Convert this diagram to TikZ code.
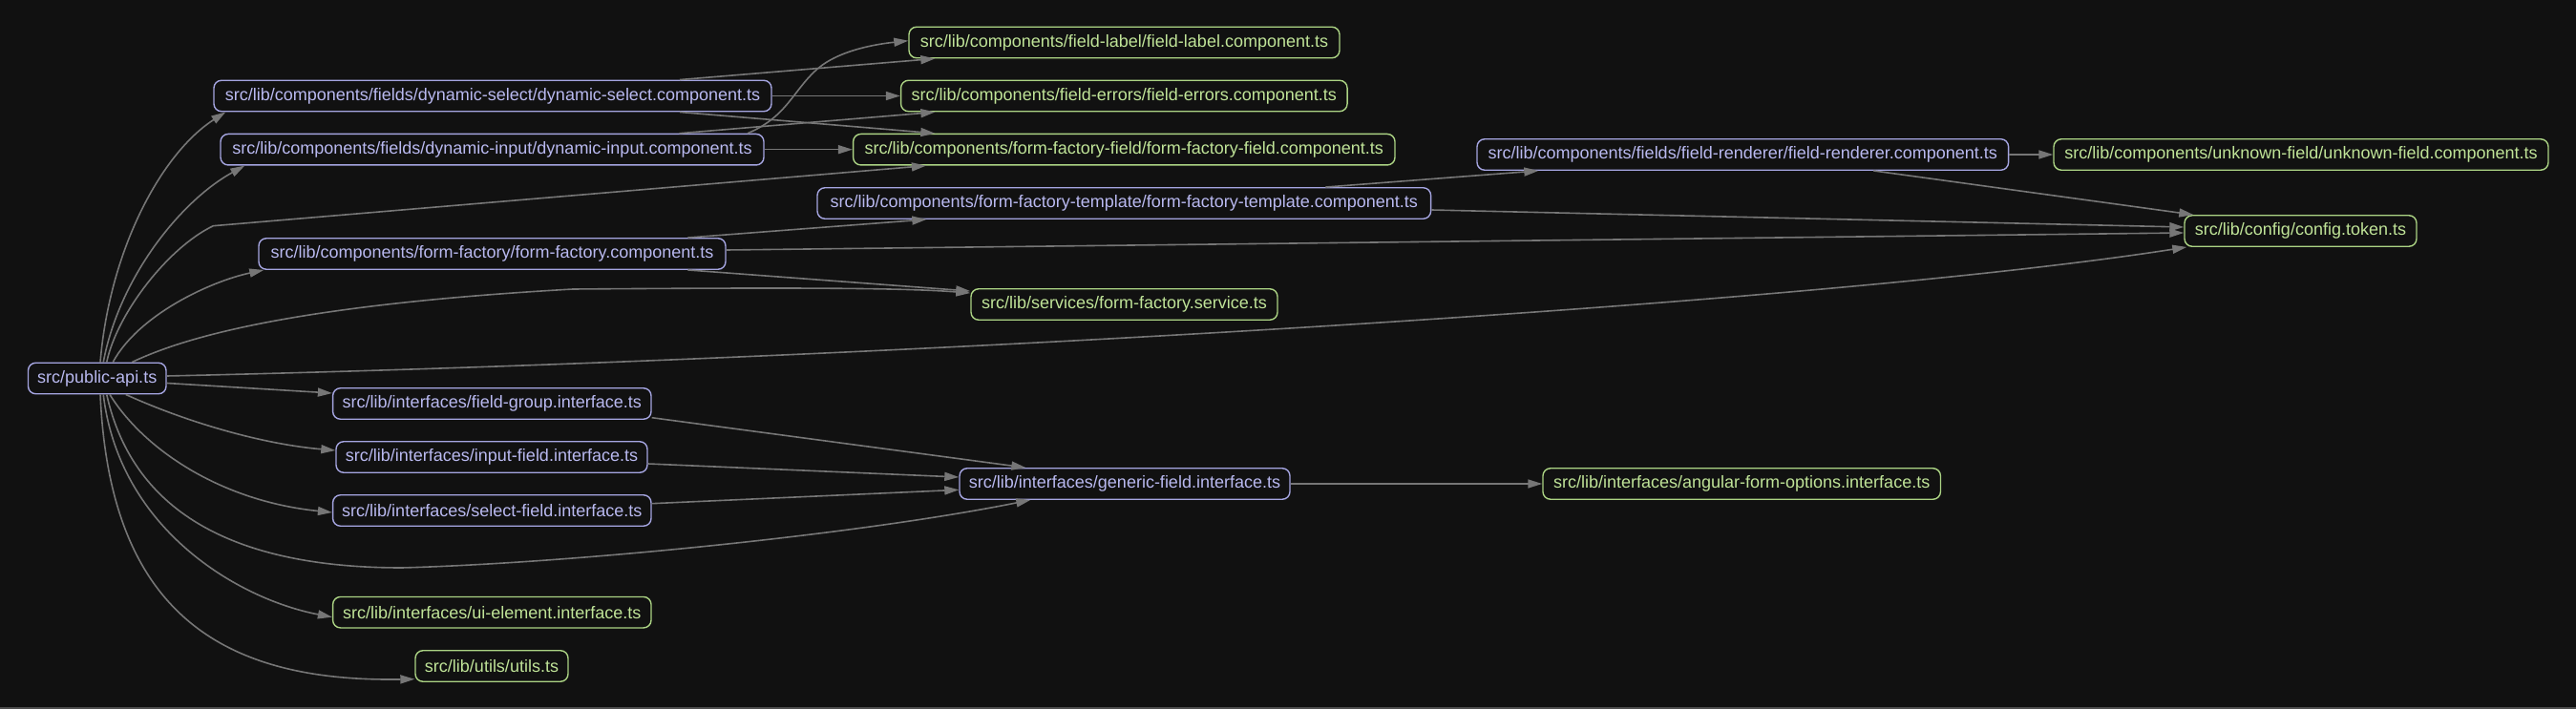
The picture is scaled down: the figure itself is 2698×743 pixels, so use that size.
\documentclass[tikz,border=0pt]{standalone}
\usepackage{fontspec}
\setmainfont{Liberation Sans}
\usetikzlibrary{arrows.meta}
\definecolor{bg}{HTML}{111111}
\definecolor{lav}{RGB}{185,185,240}
\definecolor{lavb}{RGB}{165,165,225}
\definecolor{grn}{RGB}{192,228,152}
\definecolor{grnb}{RGB}{172,212,132}
\definecolor{edgec}{RGB}{118,118,118}
\definecolor{rim}{RGB}{78,78,78}
\tikzset{
  box/.style={rounded corners=8pt, line width=1.4pt, inner sep=0pt, minimum height=32.5pt,
    font=\fontsize{18pt}{21pt}\selectfont, fill=bg},
  bnode/.style={box, draw=lavb, text=lav},
  gnode/.style={box, draw=grnb, text=grn},
  edge/.style={draw=edgec, line width=1.6pt, -{Triangle[length=15pt,width=9pt]}},
}
\begin{document}
\begin{tikzpicture}[x=1pt,y=-1pt]
\fill[bg] (0,0) rectangle (2698,743);
\fill[rim] (0,740.5) rectangle (2698,743);
\useasboundingbox (0,0) rectangle (2698,743);

% nodes
\node[bnode, minimum width=144.5pt] (pub) at (101.75,396.5) {src/public-api.ts};
\node[bnode, minimum width=584pt] (dsel) at (516,100.5) {src/lib/components/fields/dynamic-select/dynamic-select.component.ts};
\node[bnode, minimum width=569pt] (dinp) at (515.5,156.7) {src/lib/components/fields/dynamic-input/dynamic-input.component.ts};
\node[bnode, minimum width=489pt] (ff) at (515.5,266) {src/lib/components/form-factory/form-factory.component.ts};
\node[bnode, minimum width=642.6pt] (fft) at (1177.3,213) {src/lib/components/form-factory-template/form-factory-template.component.ts};
\node[gnode, minimum width=451pt] (flabel) at (1177.5,44.5) {src/lib/components/field-label/field-label.component.ts};
\node[gnode, minimum width=467.5pt] (ferr) at (1177.3,100.5) {src/lib/components/field-errors/field-errors.component.ts};
\node[gnode, minimum width=567.4pt] (fff) at (1177.3,156.7) {src/lib/components/form-factory-field/form-factory-field.component.ts};
\node[gnode, minimum width=321pt] (svc) at (1177.5,319) {src/lib/services/form-factory.service.ts};
\node[bnode, minimum width=556.6pt] (fr) at (1825.3,162) {src/lib/components/fields/field-renderer/field-renderer.component.ts};
\node[gnode, minimum width=518pt] (unk) at (2410,162) {src/lib/components/unknown-field/unknown-field.component.ts};
\node[gnode, minimum width=243pt] (tok) at (2409.5,242) {src/lib/config/config.token.ts};
\node[bnode, minimum width=333.4pt] (fg) at (515.3,423) {src/lib/interfaces/field-group.interface.ts};
\node[bnode, minimum width=326pt] (inp) at (515,479) {src/lib/interfaces/input-field.interface.ts};
\node[bnode, minimum width=333.4pt] (sel) at (515.3,535) {src/lib/interfaces/select-field.interface.ts};
\node[bnode, minimum width=346pt] (gen) at (1178,507) {src/lib/interfaces/generic-field.interface.ts};
\node[gnode, minimum width=416.5pt] (ang) at (1824.2,507) {src/lib/interfaces/angular-form-options.interface.ts};
\node[gnode, minimum width=333.4pt] (ui) at (515.3,641.7) {src/lib/interfaces/ui-element.interface.ts};
\node[gnode, minimum width=160pt] (utl) at (515,698) {src/lib/utils/utils.ts};

% edges from public-api
\draw[edge] ([xshift=3.25pt]pub.north) .. controls (115,260) and (170,160) .. ([xshift=13pt]dsel.south west);
\draw[edge] ([xshift=6.5pt]pub.north) .. controls (125,290) and (190,210) .. ([xshift=26pt]dinp.south west);
\draw[edge] ([xshift=10pt]pub.north) .. controls (122,330) and (175,260) .. (223.3,236.7) -- ([xshift=77pt]fff.south west);
\draw[edge] ([xshift=16.5pt]pub.north) .. controls (145,330) and (220,295) .. ([xshift=6pt]ff.south west);
\draw[edge] ([xshift=36.5pt]pub.north) .. controls (190,355) and (300,320) .. (600,303) .. controls (850,301) and (950,302) .. ([yshift=-5pt]svc.north west);
\draw[edge] ([yshift=2.5pt]pub.east) .. controls (900,378) and (1900,320) .. ([xshift=3pt]tok.south west);
\draw[edge] ([yshift=-5pt]pub.east) -- ([yshift=11pt]fg.west);
\draw[edge] ([xshift=30pt]pub.south) .. controls (190,440) and (270,465) .. ([yshift=7pt]inp.west);
\draw[edge] ([xshift=13.25pt]pub.south) .. controls (150,470) and (230,525) .. ([yshift=-2pt]sel.west);
\draw[edge] ([xshift=10pt]pub.south) .. controls (140,540) and (250,595) .. (421,595) .. controls (600,590) and (900,560) .. ([xshift=75pt]gen.south west);
\draw[edge] ([xshift=6.5pt]pub.south) .. controls (125,555) and (250,628) .. ([yshift=-5pt]ui.west);
\draw[edge] ([xshift=3.25pt]pub.south) .. controls (115,640) and (230,715) .. ([yshift=-13.7pt]utl.west);

% dynamic-select
\draw[edge] ([xshift=196pt]dsel.north) -- ([xshift=28pt]flabel.south west);
\draw[edge] (dsel.east) -- (ferr.west);
\draw[edge] ([xshift=196pt]dsel.south) -- ([xshift=86.4pt]fff.north west);

% dynamic-input
\draw[edge] ([xshift=196pt]dinp.north) -- ([xshift=36.5pt]ferr.south west);
\draw[edge] ([xshift=267.5pt]dinp.north) .. controls (825,122) and (830,95) .. (856.7,71.7) .. controls (880,52) and (920,46) .. ([yshift=1.8pt]flabel.west);
\draw[edge] (dinp.east) -- (fff.west);

% form-factory
\draw[edge] ([xshift=205pt]ff.north) -- ([xshift=115pt]fft.south west);
\draw[edge] ([yshift=4pt]ff.east) -- ([yshift=-2pt]tok.west);
\draw[edge] ([xshift=205pt]ff.south) -- ([yshift=-3pt]svc.north west);

% form-factory-template
\draw[edge] ([xshift=211pt]fft.north) -- ([xshift=65pt]fr.south west);
\draw[edge] ([yshift=-7pt]fft.east) -- ([yshift=4pt]tok.west);

% field-renderer
\draw[edge] (fr.east) -- (unk.west);
\draw[edge] ([xshift=137pt]fr.south) -- ([xshift=10pt]tok.north west);

% interfaces
\draw[edge] ([yshift=-14.7pt]fg.east) -- ([xshift=70pt]gen.north west);
\draw[edge] ([yshift=-7pt]inp.east) -- ([yshift=7pt]gen.west);
\draw[edge] ([yshift=7.3pt]sel.east) -- ([yshift=-6.3pt]gen.west);
\draw[edge] (gen.east) -- (ang.west);
\end{tikzpicture}
\end{document}
